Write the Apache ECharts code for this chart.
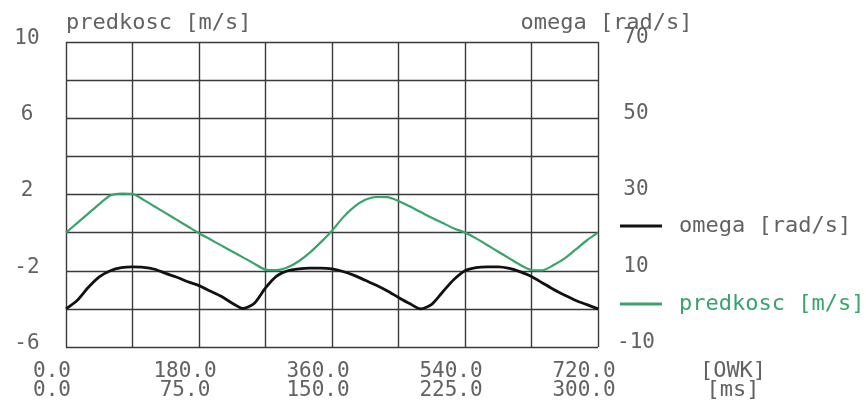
<!DOCTYPE html>
<html>
<head>
<meta charset="utf-8">
<script src="https://cdn.jsdelivr.net/npm/echarts@6/dist/echarts.min.js"></script>
<style>
  html, body { margin: 0; padding: 0; background: #fff; }
  #chart { width: 866px; height: 407px; }
</style>
</head>
<body>
<div id="chart"></div>
<script>
// kat walu [OWK], probki co 15 stopni
const owk = [0, 15, 30, 45, 60, 75, 90, 105, 120, 135, 150, 165, 180, 195, 210, 225, 240, 255, 270, 285, 300, 315, 330, 345, 360,
  375, 390, 405, 420, 435, 450, 465, 480, 495, 510, 525, 540, 555, 570, 585, 600, 615, 630, 645, 660, 675, 690, 705, 720];

// predkosc [m/s] - lewa os
const predkosc = [0.0, 0.5, 1.0, 1.5, 1.95, 2.05, 2.03, 1.72, 1.37, 1.02, 0.67, 0.32, -0.03, -0.35, -0.67, -0.99, -1.31, -1.63, -1.94, -1.97, -1.82, -1.5, -1.05, -0.5, 0.1,
  0.8, 1.35, 1.72, 1.87, 1.86, 1.66, 1.38, 1.08, 0.78, 0.5, 0.22, 0.0, -0.3, -0.65, -1.0, -1.35, -1.7, -1.96, -1.98, -1.7, -1.35, -0.88, -0.4, 0.0];

// omega [rad/s] - prawa os
const omega = [0.0, 2.2, 5.6, 8.4, 10.0, 10.8, 11.0, 10.9, 10.4, 9.3, 8.3, 7.1, 6.1, 4.7, 3.3, 1.5, 0.1, 1.5, 5.5, 8.6, 10.0, 10.5, 10.7, 10.7, 10.5,
  9.8, 8.8, 7.5, 6.2, 4.7, 3.0, 1.4, 0.0, 1.2, 4.5, 7.7, 10.0, 10.8, 11.0, 11.0, 10.6, 9.7, 8.5, 6.8, 5.1, 3.6, 2.2, 1.1, 0.0];

// opisy osi x (dwa wiersze)
const owkTicks = [0, 180, 360, 540, 720];
const owkLabels = ['0.0', '180.0', '360.0', '540.0', '720.0'];
const msLabels = ['0.0', '75.0', '150.0', '225.0', '300.0'];

// opisy osi y
const leftTicks = [10, 6, 2, -2, -6];
const rightTicks = [70, 50, 30, 10, -10];

const FONT = 'DejaVu Sans Mono';
const TXT = '#626262';
const GREEN = '#38a46c';

const chart = echarts.init(document.getElementById('chart'), null, { renderer: 'canvas' });

const option = {
  animation: false,
  backgroundColor: '#fff',
  textStyle: { fontFamily: FONT },
  grid: { left: 66, right: 268, top: 42, bottom: 60 },
  legend: {
    orient: 'vertical',
    left: 615,
    top: 209,
    selectedMode: false,
    icon: 'rect',
    itemWidth: 42,
    itemHeight: 3,
    itemGap: 54,
    textStyle: { fontFamily: FONT, fontSize: 22, lineHeight: 24, color: TXT, padding: [0, 0, 0, 12] },
    data: [
      { name: 'omega [rad/s]', textStyle: { color: TXT } },
      { name: 'predkosc [m/s]', textStyle: { color: GREEN } }
    ]
  },
  xAxis: {
    type: 'value',
    min: 0,
    max: 720,
    interval: 90,
    name: '[OWK]\n[ms]',
    nameLocation: 'end',
    nameGap: 135,
    nameTextStyle: {
      fontFamily: FONT, fontSize: 22, color: TXT, lineHeight: 19,
      align: 'center', verticalAlign: 'top', padding: [15, 0, 0, 0]
    },
    axisLine: { show: false, onZero: false },
    axisTick: { show: false },
    splitLine: { show: true, lineStyle: { color: '#3a3a3a', width: 1.4 } },
    axisLabel: {
      margin: 15,
      alignMinLabel: 'center',
      alignMaxLabel: 'center',
      rich: {
        t: { fontFamily: FONT, fontSize: 21, color: TXT, lineHeight: 19, padding: [0, 28, 0, 0] }
      },
      formatter: function (v) {
        const i = owkTicks.indexOf(v);
        return i < 0 ? '' : '{t|' + owkLabels[i] + '}\n{t|' + msLabels[i] + '}';
      }
    }
  },
  yAxis: [
    {
      type: 'value',
      min: -6,
      max: 10,
      interval: 2,
      position: 'left',
      name: 'predkosc [m/s]',
      nameLocation: 'end',
      nameGap: 19,
      nameMoveOverlap: false,
      nameTextStyle: { fontFamily: FONT, fontSize: 22, color: TXT, align: 'left', verticalAlign: 'middle' },
      axisLine: { show: false },
      axisTick: { show: false },
      splitLine: { show: true, lineStyle: { color: '#3a3a3a', width: 1.4 } },
      axisLabel: {
        fontFamily: FONT, fontSize: 21, color: TXT, align: 'center', margin: 39,
        verticalAlign: 'bottom', lineHeight: 7,
        formatter: function (v) { return leftTicks.indexOf(v) < 0 ? '' : String(v); }
      }
    },
    {
      type: 'value',
      min: -10,
      max: 70,
      interval: 10,
      position: 'right',
      name: 'omega [rad/s]',
      nameLocation: 'end',
      nameGap: 19,
      nameMoveOverlap: false,
      nameTextStyle: { fontFamily: FONT, fontSize: 22, color: TXT, align: 'center', verticalAlign: 'middle', padding: [0, 0, 0, 17] },
      axisLine: { show: false },
      axisTick: { show: false },
      splitLine: { show: false },
      axisLabel: {
        fontFamily: FONT, fontSize: 21, color: TXT, align: 'center', margin: 38,
        verticalAlign: 'bottom', lineHeight: 9,
        formatter: function (v) { return rightTicks.indexOf(v) < 0 ? '' : String(v); }
      }
    }
  ],
  series: [
    {
      name: 'omega [rad/s]',
      type: 'line',
      yAxisIndex: 1,
      data: owk.map((x, i) => [x, omega[i]]),
      showSymbol: false,
      smooth: 0.25,
      lineStyle: { color: '#111', width: 2.8 },
      itemStyle: { color: '#111' },
      z: 3
    },
    {
      name: 'predkosc [m/s]',
      type: 'line',
      yAxisIndex: 0,
      data: owk.map((x, i) => [x, predkosc[i]]),
      showSymbol: false,
      smooth: 0.25,
      lineStyle: { color: GREEN, width: 2.2 },
      itemStyle: { color: GREEN },
      z: 2
    }
  ]
};

chart.setOption(option);
</script>
</body>
</html>
